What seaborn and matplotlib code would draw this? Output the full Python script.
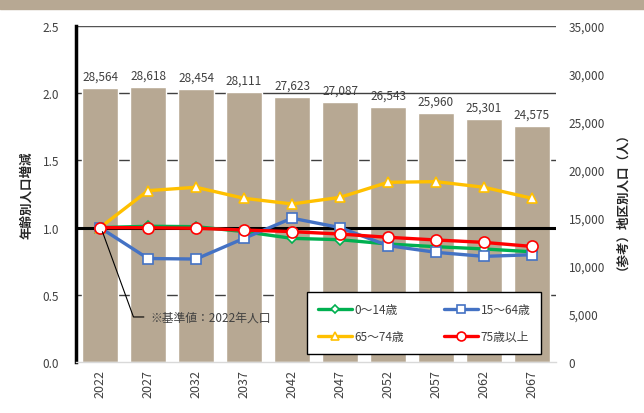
import pandas as pd
import matplotlib.pyplot as plt
import numpy as np
import seaborn as sb

# data
years = ['2022', '2027', '2032', '2037', '2042', '2047', '2052', '2057', '2062', '2067']
population = [28564, 28618, 28454, 28111, 27623, 27087, 26543, 25960, 25301, 24575]
age_0_14 = [1.0, 1.01, 1.007, 0.97, 0.92, 0.91, 0.878, 0.858, 0.841, 0.82]
age_15_64 = [1.0, 0.77, 0.766, 0.92, 1.07, 1.0, 0.866, 0.816, 0.786, 0.798]
age_65_74 = [1.0, 1.275, 1.30, 1.218, 1.176, 1.225, 1.337, 1.342, 1.30, 1.218]
age_75_up = [1.0, 0.999, 0.995, 0.982, 0.97, 0.952, 0.928, 0.908, 0.89, 0.86]
series_names = ['0～14歳', '15～64歳', '65～74歳', '75歳以上']
left_ticks = [0.0, 0.5, 1.0, 1.5, 2.0, 2.5]
right_ticks = [0, 5000, 10000, 15000, 20000, 25000, 30000, 35000]

sb.set_style('white')
plt.rcParams['font.family'] = ['Noto Sans CJK JP', 'DejaVu Sans']

bar_color = '#B7A893'
txt = '#404040'

fig = plt.figure(figsize=(6.44, 4.14), dpi=100)
fig.patches.append(plt.Rectangle((0, 1 - 10 / 414), 1, 10 / 414, transform=fig.transFigure,
                                 color=bar_color, zorder=0))
ax = fig.add_axes([76 / 644, 1 - 363 / 414, 480 / 644, 336 / 414])
ax2 = ax.twinx()
ax.set_zorder(ax2.get_zorder() + 1)
ax.patch.set_visible(False)

# bars on the right axis
df = pd.DataFrame({'year': years, 'pop': population})
sb.barplot(data=df, x='year', y='pop', ax=ax2, color=bar_color, width=0.75,
           saturation=1, zorder=2)
ax2.bar_label(ax2.containers[0], labels=[f'{v:,}' for v in population],
              padding=4, fontsize=8.5, color=txt)
ax2.set_ylim(0, 35000)
ax2.set_yticks(right_ticks)
ax2.set_yticklabels([f'{v:,}' for v in right_ticks], fontsize=8.5, color=txt)
ax2.set_ylabel('（参考）地区別人口（人）', fontsize=9, fontweight='bold', rotation=90,
               labelpad=3)
ax2.tick_params(axis='y', length=0, pad=9)
# gridlines of the left scale, behind bars
for t in left_ticks[1:]:
    if t != 1.0:
        ax2.axhline(t * 35000 / 2.5, color='#404040', lw=1, zorder=1)

# lines on the left axis
ax.axhline(1.0, color='black', lw=2.2, zorder=3)
x = np.arange(len(years))
styles = [
    (age_0_14, '#00B050', 'D', 5),
    (age_15_64, '#4472C4', 's', 7.5),
    (age_65_74, '#FFC000', '^', 7.5),
    (age_75_up, '#FF0000', 'o', 8),
]
for (vals, col, mk, ms), name in zip(styles, series_names):
    sb.lineplot(x=x, y=vals, ax=ax, color=col, lw=2.4, marker=mk, markersize=ms,
                markerfacecolor='white', markeredgecolor=col, markeredgewidth=1.2,
                label=name, zorder=4)

ax.set_xlim(-0.5, len(years) - 0.5)
ax2.set_xlim(-0.5, len(years) - 0.5)
ax.set_ylim(0, 2.5)
ax.set_yticks(left_ticks)
ax.set_yticklabels([f'{v:.1f}' for v in left_ticks], fontsize=8.5, color=txt)
ax.tick_params(axis='y', length=0, pad=12)
ax.set_ylabel('年齢別人口増減', fontsize=9, fontweight='bold', labelpad=7)
ax.set_xticks(x)
ax.set_xticklabels(years, rotation=90, fontsize=9, color=txt)
ax.tick_params(axis='x', which='major', length=0, pad=5)
ax.set_xticks(np.arange(-0.5, len(years), 2.5), minor=True)
ax.tick_params(axis='x', which='minor', length=4, color='#D9D9D9', width=1)
ax2.set_xlabel('')
ax2.tick_params(axis='x', length=0)

for a in (ax, ax2):
    for s in ('top', 'right'):
        a.spines[s].set_visible(False)
ax2.spines['left'].set_visible(False)
ax2.spines['bottom'].set_visible(False)
ax.spines['left'].set_color('black')
ax.spines['left'].set_linewidth(2.5)
ax.spines['bottom'].set_color('#D9D9D9')
ax.spines['bottom'].set_linewidth(1)
ax2.axhline(35000, color='#595959', lw=1.2, zorder=1)

ax.annotate('※基準値：2022年人口', xy=(0.05, 0.97), xytext=(1.04, 0.335),
            fontsize=8.5, color=txt, va='center', ha='left',
            arrowprops=dict(arrowstyle='-', color='black', lw=0.8,
                            connectionstyle='angle,angleA=0,angleB=-70,rad=0',
                            shrinkA=2, shrinkB=0, relpos=(0, 0.5)), zorder=5)

handles, labels = ax.get_legend_handles_labels()
order = [0, 2, 1, 3]
leg = ax.legend([handles[i] for i in order], [labels[i] for i in order],
                loc='upper left', bbox_to_anchor=(0.481, 0.208),
                ncol=2, fontsize=8.5, frameon=True, fancybox=False,
                edgecolor='black', framealpha=1, handlelength=2.9, borderaxespad=0,
                handletextpad=0.2, columnspacing=3.4, labelspacing=1.2,
                borderpad=0.9, markerscale=0.8)
leg.get_frame().set_linewidth(1)
for t in leg.get_texts():
    t.set_color(txt)

plt.savefig('out.png', dpi=100)
